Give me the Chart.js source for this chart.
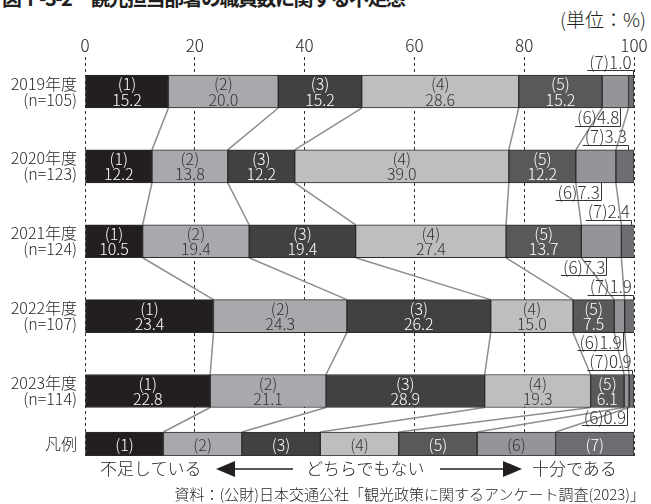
<!DOCTYPE html>
<html lang="ja">
<head>
<meta charset="utf-8">
<title>観光担当部署の職員数に関する不足感</title>
<script src="https://cdn.jsdelivr.net/npm/chart.js@4/dist/chart.umd.min.js"></script>
<style>
  html, body { margin: 0; padding: 0; background: #fff; }
  body { width: 651px; height: 504px; position: relative; overflow: hidden;
         font-family: 'Noto Sans CJK JP', 'Noto Sans', sans-serif; color: #231f20; }
  #wrap { position: absolute; left: 0; top: 0; width: 651px; height: 504px; }
  .t { position: absolute; white-space: nowrap; line-height: 1; }
  .lt { font-weight: 300; }
</style>
</head>
<body>
<div class="t" style="left:2px; top:-12px; font-size:20px; font-weight:700; letter-spacing:-1.5px;">図Ⅰ-3-2　観光担当部署の職員数に関する不足感</div>
<div class="t lt" style="right:5px; top:9px; font-size:19px;">(単位：%)</div>
<div id="wrap"><canvas id="chart" width="651" height="504"></canvas></div>

<div class="t lt" style="left:100px; top:459px; font-size:17px;">不足している</div>
<div class="t lt" style="left:306px; top:459px; font-size:17px;">どちらでもない</div>
<div class="t lt" style="left:532px; top:459px; font-size:17px;">十分である</div>
<svg style="position:absolute; left:0; top:0;" width="651" height="504">
  <polygon points="216,469 235,461 235,477" fill="#231f20"/>
  <line x1="234" y1="469" x2="293" y2="469" stroke="#231f20" stroke-width="1.5"/>
  <line x1="440" y1="469" x2="504" y2="469" stroke="#231f20" stroke-width="1.5"/>
  <polygon points="503,461 522,469 503,477" fill="#231f20"/>
</svg>
<div class="t lt" style="right:6px; top:486px; font-size:15px;">資料：(公財)日本交通公社「観光政策に関するアンケート調査(2023)」</div>

<script>
// Survey years and respondents
const years = ['2019年度', '2020年度', '2021年度', '2022年度', '2023年度'];
const sampleSizes = ['(n=105)', '(n=123)', '(n=124)', '(n=107)', '(n=114)'];

// Answer scale: (1) = 不足している … (7) = 十分である
const categories = ['(1)', '(2)', '(3)', '(4)', '(5)', '(6)', '(7)'];

// Share of answers per year (%)
const share1 = [15.2, 12.2, 10.5, 23.4, 22.8];
const share2 = [20.0, 13.8, 19.4, 24.3, 21.1];
const share3 = [15.2, 12.2, 19.4, 26.2, 28.9];
const share4 = [28.6, 39.0, 27.4, 15.0, 19.3];
const share5 = [15.2, 12.2, 13.7, 7.5, 6.1];
const share6 = [4.8, 7.3, 7.3, 1.9, 0.9];
const share7 = [1.0, 3.3, 2.4, 1.9, 0.9];

const xTicks = [0, 20, 40, 60, 80, 100];
const legendLabel = '凡例';

const series = [share1, share2, share3, share4, share5, share6, share7];

// ---- styling / layout ----
const FONT = "'Noto Sans CJK JP', 'Noto Sans', sans-serif";
const fills = ['#231f20', '#a7a9ac', '#414042', '#bcbec0', '#58595b', '#939598', '#6d6e71'];
const inks  = ['#ffffff', '#333333', '#ffffff', '#333333', '#ffffff', '#333333', '#ffffff'];
const OUTLINE = '#2b2b2b';
// The legend strip sits a little closer to the last year than the years sit to each other.
const LEGEND_ROW = 4.708;
const Y_MIN = -0.461, Y_MAX = 4.868;
const INSIDE_LABELS = 5;   // (1)…(5) are labelled inside their bars, (6)/(7) by callouts

const datasets = [];
series.forEach((vals, k) => {
  datasets.push({
    label: categories[k],
    data: vals.map((v, i) => ({ x: v, y: i })),
    backgroundColor: fills[k],
    borderColor: OUTLINE,
    borderWidth: 1,
    borderSkipped: false,
    barThickness: 33,
    grouped: false
  });
});
categories.forEach((c, k) => {
  datasets.push({
    label: c,
    data: [{ x: 100 / categories.length, y: LEGEND_ROW }],
    backgroundColor: fills[k],
    borderColor: OUTLINE,
    borderWidth: 1,
    borderSkipped: false,
    barThickness: 24,
    grouped: false
  });
});

function box(el) {
  const p = el.getProps(['x', 'y', 'base', 'height'], true);
  const left = Math.min(p.x, p.base), right = Math.max(p.x, p.base);
  return { left, right, cx: (left + right) / 2, cy: p.y, top: p.y - p.height / 2, bottom: p.y + p.height / 2 };
}

const annotate = {
  id: 'annotate',
  beforeDatasetsDraw(chart) {
    // grey lines joining the cumulative boundaries of consecutive bars
    const ctx = chart.ctx;
    const n = categories.length;
    ctx.save();
    ctx.strokeStyle = '#8e8e8e';
    ctx.lineWidth = 1.5;
    ctx.beginPath();
    for (let i = 0; i < years.length; i++) {
      for (let k = 0; k < n - 1; k++) {
        const upper = box(chart.getDatasetMeta(k).data[i]);
        const lowerEl = i < years.length - 1 ? chart.getDatasetMeta(k).data[i + 1]
                                             : chart.getDatasetMeta(n + k).data[0];
        const lower = box(lowerEl);
        ctx.moveTo(upper.right, upper.bottom);
        ctx.lineTo(lower.right, lower.top);
      }
    }
    ctx.stroke();
    ctx.restore();
  },
  afterDatasetsDraw(chart) {
    const ctx = chart.ctx;
    const n = categories.length;
    ctx.save();
    ctx.textAlign = 'center';
    ctx.textBaseline = 'middle';
    ctx.font = `300 16px ${FONT}`;
    // labels inside the bars
    for (let k = 0; k < INSIDE_LABELS; k++) {
      const meta = chart.getDatasetMeta(k);
      meta.data.forEach((el, i) => {
        const b = box(el);
        ctx.fillStyle = inks[k];
        ctx.fillText(categories[k], b.cx, b.cy - 7.5);
        ctx.fillText(series[k][i].toFixed(1), b.cx, b.cy + 8);
      });
    }
    // key strip
    for (let k = 0; k < n; k++) {
      const b = box(chart.getDatasetMeta(n + k).data[0]);
      ctx.fillStyle = inks[k];
      ctx.fillText(categories[k], b.cx, b.cy + 0.5);
    }
    // callouts for the two thin segments
    ctx.strokeStyle = '#333333';
    ctx.fillStyle = '#333333';
    ctx.lineWidth = 1;
    ctx.textAlign = 'right';
    ctx.textBaseline = 'alphabetic';
    ctx.font = `300 17px ${FONT}`;
    const callout = (k, above) => {
      chart.getDatasetMeta(k).data.forEach((el, i) => {
        const b = box(el);
        const text = categories[k] + series[k][i].toFixed(1);
        let xv;
        if (above) xv = Math.min(b.cx + 3, b.right - 1.5);
        else xv = Math.min(b.cx + 5, b.right - 2);
        const yu = above ? b.top - 5 : b.bottom + 17.5;
        const w = ctx.measureText(text).width;
        ctx.fillText(text, xv - 1, yu - 1.5);
        ctx.beginPath();
        ctx.moveTo(xv - w - 3, Math.round(yu) + 0.5);
        ctx.lineTo(Math.round(xv) + 0.5, Math.round(yu) + 0.5);
        ctx.lineTo(Math.round(xv) + 0.5, above ? b.top : b.bottom);
        ctx.stroke();
      });
    };
    callout(5, false);
    callout(6, true);
    ctx.restore();
  }
};

Chart.defaults.font.family = FONT;
Chart.defaults.color = '#231f20';

new Chart(document.getElementById('chart'), {
  type: 'bar',
  data: { datasets },
  options: {
    indexAxis: 'y',
    responsive: false,
    animation: false,
    events: [],
    layout: { padding: { left: 0, right: 17, top: 0, bottom: 48 } },
    plugins: { legend: { display: false }, tooltip: { enabled: false }, title: { display: false } },
    scales: {
      x: {
        type: 'linear',
        position: 'top',
        stacked: true,
        min: 0,
        max: 100,
        afterBuildTicks(scale) { scale.ticks = xTicks.map(v => ({ value: v })); },
        afterFit(scale) { scale.height = 57; },
        ticks: { padding: 1, color: '#231f20', font: { family: FONT, size: 17, weight: '300' } },
        grid: { color: '#333333', lineWidth: 1, drawTicks: false },
        border: { display: false, dash: [3, 3] }
      },
      y: {
        type: 'linear',
        stacked: true,
        reverse: true,
        offset: false,
        min: Y_MIN,
        max: Y_MAX,
        afterBuildTicks(scale) {
          scale.ticks = years.map((_, i) => ({ value: i })).concat([{ value: LEGEND_ROW }]);
        },
        afterFit(scale) { scale.width = 85; },
        ticks: {
          padding: 8,
          color: '#231f20',
          font: { family: FONT, size: 16, weight: '300', lineHeight: 1.0 },
          callback(value, index) {
            return index < years.length ? [years[index], sampleSizes[index]] : legendLabel;
          }
        },
        grid: { display: false, drawTicks: false },
        border: { display: false }
      }
    }
  },
  plugins: [annotate]
});
</script>
</body>
</html>
